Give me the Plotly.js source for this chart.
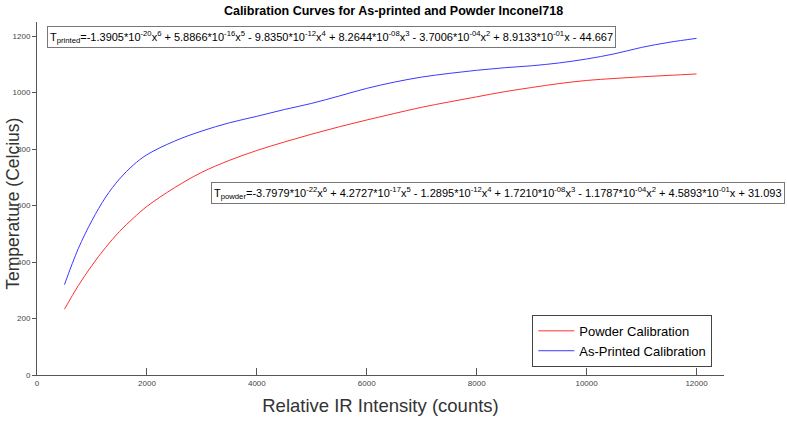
<!DOCTYPE html>
<html>
<head>
<meta charset="utf-8">
<script src="https://cdn.plot.ly/plotly-3.0.1.min.js"></script>
<style>html,body{margin:0;padding:0;background:#fff;}#chart{width:787px;height:423px;}</style>
</head>
<body>
<div id="chart"></div>
<script>
// Relative IR intensity (counts)
const intensity = [500, 750, 1000, 1250, 1500, 1750, 2000, 2500, 3000, 3500, 4000, 4500, 5000, 5500, 6000, 6500, 7000, 7500, 8000, 8500, 9000, 9500, 10000, 10500, 11000, 11500, 12000];
// Temperature (Celcius)
const powderTemp = [233, 316, 388, 452, 508, 555, 597, 663, 718, 760, 795, 825, 853, 879, 903, 926, 948, 967, 985, 1003, 1018, 1032, 1043, 1050, 1056, 1061, 1066];
const printedTemp = [320, 447, 547, 630, 694, 743, 780, 828, 864, 893, 916, 940, 962, 988, 1015, 1037, 1055, 1068, 1079, 1088, 1095, 1105, 1119, 1137, 1160, 1178, 1192];
const xTicks = [0, 2000, 4000, 6000, 8000, 10000, 12000];
const yTicks = [0, 200, 400, 600, 800, 1000, 1200];
const titleText = 'Calibration Curves for As-printed and Powder Inconel718';
const xTitle = 'Relative IR Intensity (counts)';
const yTitle = 'Temperature (Celcius)';
const printedEq = 'T<sub>printed</sub>=-1.3905*10<sup>-20</sup>x<sup>6</sup> + 5.8866*10<sup>-16</sup>x<sup>5</sup> - 9.8350*10<sup>-12</sup>x<sup>4</sup> + 8.2644*10<sup>-08</sup>x<sup>3</sup> - 3.7006*10<sup>-04</sup>x<sup>2</sup> + 8.9133*10<sup>-01</sup>x - 44.667';
const powderEq = 'T<sub>powder</sub>=-3.7979*10<sup>-22</sup>x<sup>6</sup> + 4.2727*10<sup>-17</sup>x<sup>5</sup> - 1.2895*10<sup>-12</sup>x<sup>4</sup> + 1.7210*10<sup>-08</sup>x<sup>3</sup> - 1.1787*10<sup>-04</sup>x<sup>2</sup> + 4.5893*10<sup>-01</sup>x + 31.093';

const sans = '"Liberation Sans", Arial, sans-serif';

const traces = [
  {x: intensity, y: powderTemp, type: 'scatter', mode: 'lines', name: 'Powder Calibration',
   line: {color: '#ff3030', width: 1, shape: 'spline', smoothing: 1}},
  {x: intensity, y: printedTemp, type: 'scatter', mode: 'lines', name: 'As-Printed Calibration',
   line: {color: '#3a3aff', width: 1, shape: 'spline', smoothing: 1}}
];

const layout = {
  width: 787, height: 423,
  margin: {l: 37, r: 63, t: 22, b: 48},
  paper_bgcolor: '#fff', plot_bgcolor: '#fff',
  title: {text: '<b>' + titleText + '</b>', x: 0.5, xanchor: 'center', y: 0.985, yanchor: 'top',
          font: {family: sans, size: 12.5, color: '#000'}},
  xaxis: {range: [0, 12500], tickvals: xTicks, ticktext: xTicks.map(String),
          showgrid: false, zeroline: false, showline: true, linecolor: '#555', linewidth: 1,
          ticks: 'inside', ticklen: 7, tickcolor: '#555',
          tickfont: {family: sans, size: 8, color: '#444'},
          title: {text: xTitle, standoff: 12, font: {family: sans, size: 18.5, color: '#333'}}},
  yaxis: {range: [0, 1250], tickvals: yTicks, ticktext: yTicks.map(String),
          showgrid: false, zeroline: false, showline: true, linecolor: '#555', linewidth: 1,
          ticks: 'outside', ticklen: 4, tickcolor: '#555',
          tickfont: {family: sans, size: 8, color: '#444'}},
  showlegend: true,
  legend: {x: 0.983, xanchor: 'right', y: 0.023, yanchor: 'bottom',
           bgcolor: '#fff', bordercolor: '#444', borderwidth: 1, itemwidth: 36,
           font: {family: sans, size: 13, color: '#000'}, tracegroupgap: 0},
  annotations: [
    {xref: 'paper', yref: 'paper', x: -0.034, y: 0.484, xanchor: 'center', yanchor: 'middle',
     text: yTitle, textangle: -90, showarrow: false,
     font: {family: sans, size: 17.5, color: '#333'}},
    {xref: 'paper', yref: 'y', x: 0.0145, y: 1197, xanchor: 'left', yanchor: 'middle',
     text: printedEq, showarrow: false, align: 'left',
     font: {family: sans, size: 11, color: '#000'},
     bgcolor: '#fff', bordercolor: '#777', borderwidth: 1, borderpad: 2},
    {xref: 'paper', yref: 'y', x: 0.253, y: 643, xanchor: 'left', yanchor: 'middle',
     text: powderEq, showarrow: false, align: 'left',
     font: {family: sans, size: 11, color: '#000'},
     bgcolor: '#fff', bordercolor: '#777', borderwidth: 1, borderpad: 2}
  ]
};

Plotly.newPlot('chart', traces, layout, {displayModeBar: false, staticPlot: true});
</script>
</body>
</html>
